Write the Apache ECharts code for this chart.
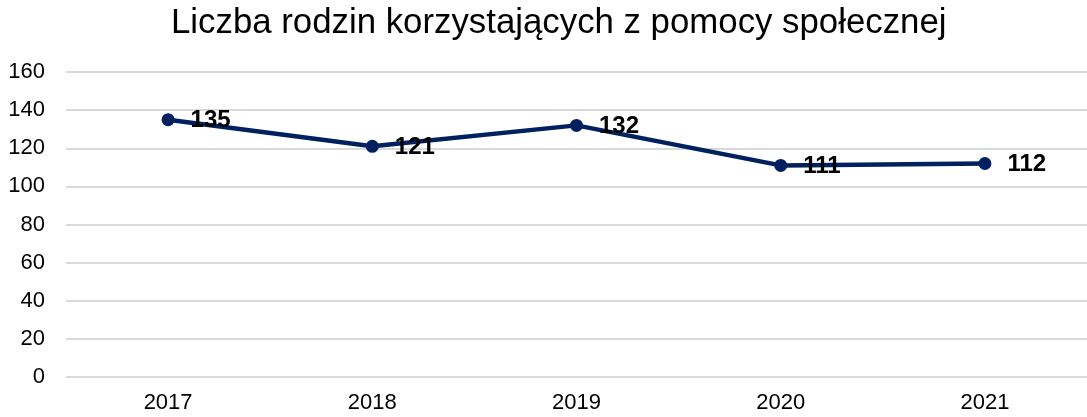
<!DOCTYPE html>
<html><head><meta charset="utf-8">
<script src="https://cdn.jsdelivr.net/npm/echarts@6/dist/echarts.min.js"></script>
<style>html,body{margin:0;padding:0;background:#fff}#c{width:1087px;height:417px}</style>
</head><body><div id="c"></div>
<script>
const categories = ['2017','2018','2019','2020','2021'];
const values = [135, 121, 132, 111, 112];
const chart = echarts.init(document.getElementById('c'));
chart.setOption({
  animation: false,
  title: { text: 'Liczba rodzin korzystających z pomocy społecznej', left: 166, top: 1,
    textStyle: { fontFamily: 'Liberation Sans', fontSize: 34.8, fontWeight: 'normal', color: '#000' } },
  grid: { left: 66, width: 1029, top: 72, height: 305 },
  xAxis: { type: 'category', data: categories, boundaryGap: true,
    axisLine: { show: false }, axisTick: { show: false },
    axisLabel: { fontFamily: 'Liberation Sans', fontSize: 22, color: '#000', margin: 15 } },
  yAxis: { type: 'value', min: 0, max: 160, interval: 20,
    axisLine: { show: false }, axisTick: { show: false },
    splitLine: { lineStyle: { color: '#d9d9d9', width: 2 } },
    axisLabel: { fontFamily: 'Liberation Sans', fontSize: 22, color: '#000', margin: 21 } },
  series: [{ type: 'line', data: values, symbol: 'circle', symbolSize: 13,
    lineStyle: { color: '#002060', width: 4.5 }, itemStyle: { color: '#002060' },
    label: { show: true, position: 'right', distance: 16, offset: [0, 1],
      fontFamily: 'Liberation Sans', fontSize: 24, fontWeight: 'bold', color: '#000' } }]
});
</script></body></html>
